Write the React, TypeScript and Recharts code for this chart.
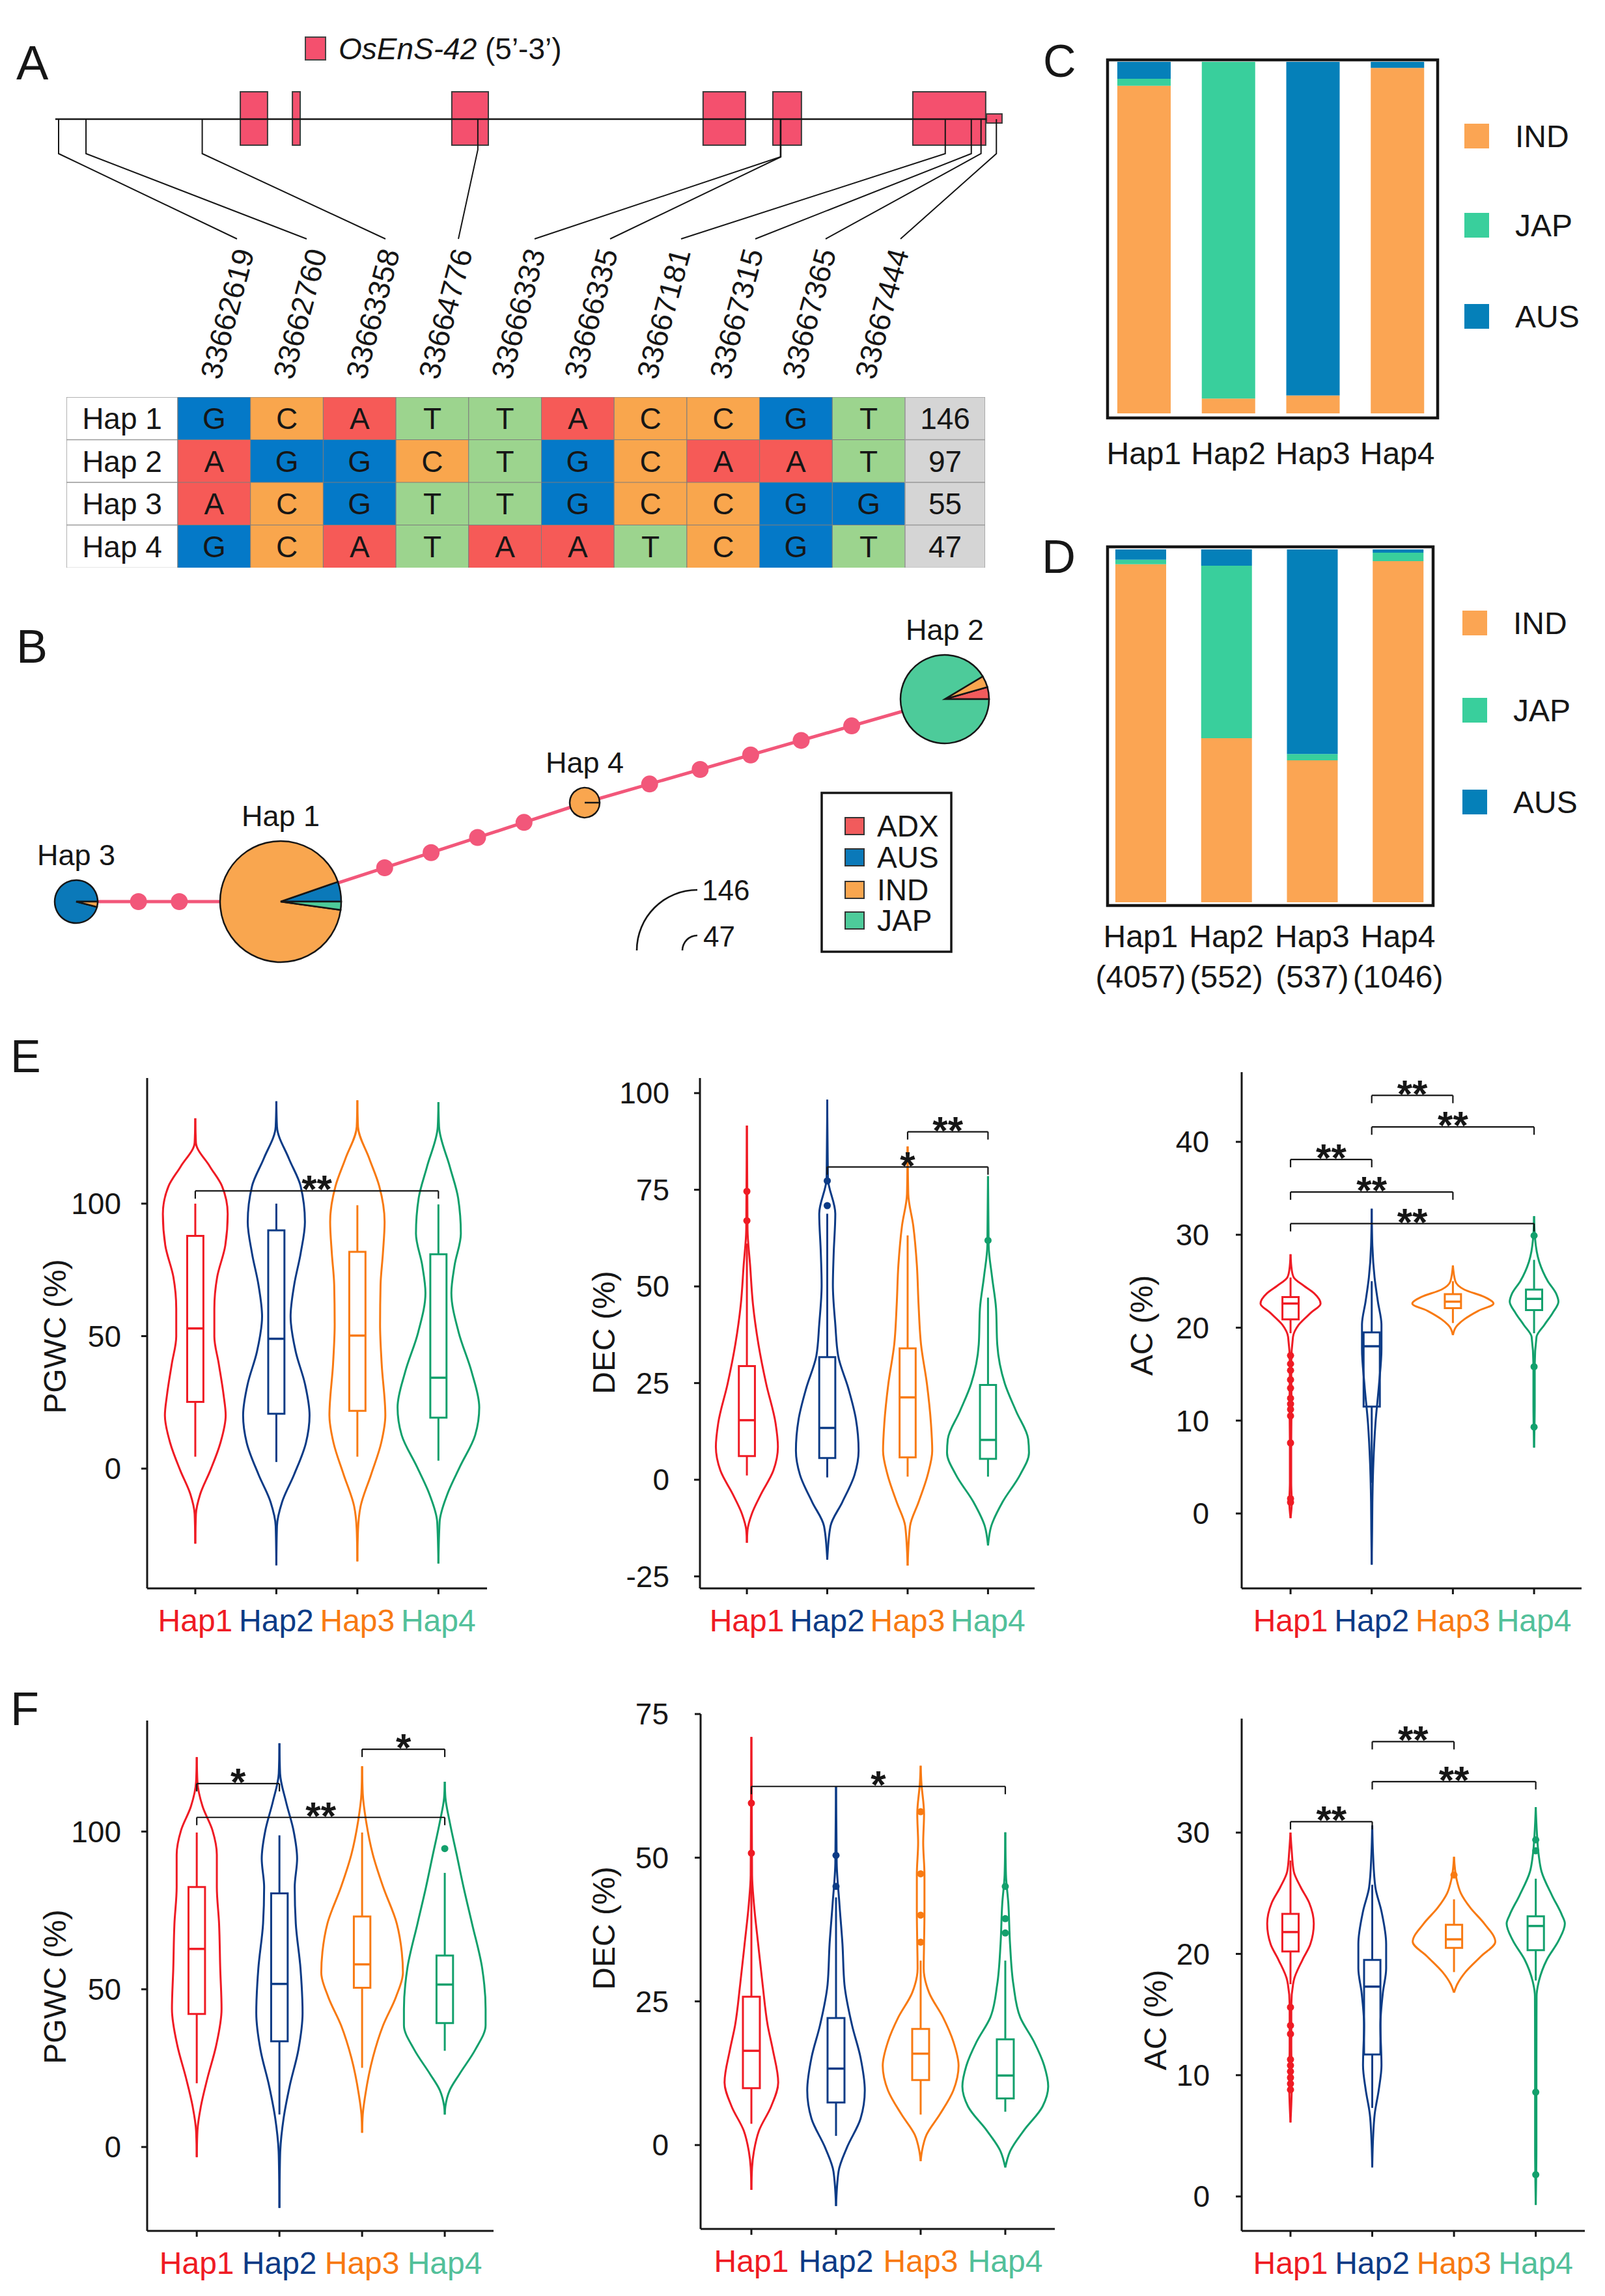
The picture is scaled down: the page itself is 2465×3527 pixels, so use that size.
import React from 'react';
import {
  ComposedChart, BarChart, PieChart, Bar, Cell, LabelList, Line, Scatter, Pie,
  XAxis, YAxis, ReferenceArea, ReferenceLine,
} from 'recharts';

const FONT = '"Liberation Sans", Arial, Helvetica, sans-serif';
const INK = '#161616';
const PINK = '#f4506e';

// ---------- A: gene model (bp) and haplotype table ----------
const snpPos = [33662619, 33662760, 33663358, 33664776, 33666333, 33666335, 33667181, 33667315, 33667365, 33667444];
const exonSpans = [
  [33663554, 33663694], [33663822, 33663862], [33664642, 33664830],
  [33665935, 33666153], [33666294, 33666441], [33667014, 33667389],
];
const utrSpan = [33667393, 33667473];
const geneStart = 33662602;

const hapNames = ['Hap 1', 'Hap 2', 'Hap 3', 'Hap 4'];
const hapAlleles = ['GCATTACCGT', 'AGGCTGCAAT', 'ACGTTGCCGG', 'GCATAATCGT'];
const hapCounts = [146, 97, 55, 47];
const baseColors = { A: '#f65a57', C: '#f9a64d', G: '#0479c8', T: '#9cd48e' };

// ---------- B: haplotype network ----------
const popNames = ['ADX', 'AUS', 'IND', 'JAP'];
const popColors = ['#f15b5c', '#0b79b9', '#f9a64f', '#4dcb9a'];
const netShares = [
  [0, 5.3, 92.5, 2.2],
  [4.4, 0, 4.2, 91.4],
  [0, 96, 4, 0],
  [0, 0, 100, 0],
];
// [from hap, to hap, mutation steps]
const netLinks = [[2, 0, 2], [0, 3, 4], [3, 1, 5]];
const sizeKey = [146, 47];

// ---------- C / D: subpopulation make-up ----------
const groupNames = ['IND', 'JAP', 'AUS'];
const groupColors = ['#fba553', '#39cf9c', '#0580b9'];
const hapTicks = ['Hap1', 'Hap2', 'Hap3', 'Hap4'];
const cInd = [93.2, 4.2, 5.1, 98.3];
const cJap = [2.0, 95.8, 0, 0];
const cAus = [4.8, 0, 94.9, 1.7];
const dInd = [95.8, 46.5, 40.2, 96.7];
const dJap = [1.3, 48.9, 1.8, 2.4];
const dAus = [2.9, 4.6, 58.0, 0.9];
const dTotals = [4057, 552, 537, 1046];

// ---------- E / F: violins ----------
const violinColors = ['#ef1b24', '#0c3b86', '#f87a12', '#12a06c'];
const tickColors = ['#ef1b24', '#0c3b86', '#f87a12', '#52c09a'];

// outlines: [value, half width in category units], top tip to bottom tip
const ePgwcShapes = [
  [[132.2, 0], [123, 0.008], [114, 0.18], [106.6, 0.33], [96.1, 0.40], [84.2, 0.37], [72.3, 0.27], [60.4, 0.235], [49.9, 0.235], [39.5, 0.29], [27.6, 0.35], [20.1, 0.375], [9.7, 0.31], [-0.7, 0.185], [-9.7, 0.06], [-17.1, 0.008], [-28.3, 0]],
  [[138.6, 0], [129, 0.008], [117, 0.155], [106.6, 0.30], [93.1, 0.353], [81.2, 0.30], [69.3, 0.22], [57.4, 0.176], [44, 0.24], [32, 0.353], [20.1, 0.41], [9.7, 0.365], [-2.2, 0.22], [-12.7, 0.07], [-21.6, 0.008], [-36.5, 0]],
  [[139, 0], [129, 0.008], [117, 0.147], [106.6, 0.27], [93.1, 0.336], [81.2, 0.315], [69.3, 0.286], [54.4, 0.28], [39.5, 0.3], [20.1, 0.345], [9.7, 0.294], [-2.2, 0.17], [-14.2, 0.04], [-23.1, 0.008], [-35, 0]],
  [[138.3, 0], [129, 0.008], [114, 0.14], [102, 0.244], [88.7, 0.277], [76.8, 0.2], [66.3, 0.16], [51.4, 0.25], [36.5, 0.41], [23.1, 0.504], [12.7, 0.454], [0.7, 0.265], [-9.7, 0.11], [-20.1, 0.015], [-35.8, 0]],
];
// [low whisker, q1, median, q3, high whisker]
const ePgwcBoxes = [[4.5, 25.2, 52.9, 87.8, 100], [2.5, 20.7, 49.0, 89.9, 100], [4.5, 21.8, 50.2, 81.8, 99.4], [3, 19.2, 34.3, 80.9, 99.7]];
const ePgwcOutliers = [[], [], [], []];
const ePgwcBrackets = [['**', 1, 4, 104.8]];

const eDecShapes = [
  [[91.6, 0], [64.7, 0.008], [55.5, 0.04], [45.3, 0.076], [35, 0.144], [24.8, 0.24], [14.6, 0.357], [8.5, 0.386], [2.4, 0.33], [-3.8, 0.174], [-8.9, 0.06], [-13, 0.008], [-16.3, 0]],
  [[98.3, 0], [78, 0.008], [68.8, 0.1], [58.6, 0.08], [50.4, 0.07], [40.2, 0.10], [32, 0.136], [23.8, 0.26], [15.6, 0.357], [7.5, 0.39], [1.3, 0.34], [-5.8, 0.187], [-12, 0.04], [-20.7, 0]],
  [[86.2, 0], [73.9, 0.008], [65.7, 0.07], [55.5, 0.115], [45.3, 0.136], [35.1, 0.166], [24.8, 0.24], [14.6, 0.29], [7.5, 0.306], [1.3, 0.25], [-5.8, 0.136], [-12, 0.03], [-22.2, 0]],
  [[78.5, 0], [60.6, 0.008], [52.5, 0.05], [44.3, 0.10], [35, 0.115], [24.8, 0.21], [17.7, 0.35], [10.5, 0.5], [7, 0.51], [1.3, 0.4], [-5.8, 0.18], [-12, 0.04], [-17, 0]],
];
const eDecBoxes = [[1.1, 6.1, 15.4, 29.4, 61.1], [0.6, 5.6, 13.4, 31.7, 68.8], [0.8, 5.8, 21.3, 34, 63.2], [0.8, 5.4, 10.3, 24.5, 47.1]];
const eDecOutliers = [[74.6, 67], [77.3, 70.9], [], [61.9]];
const eDecBrackets = [['**', 3, 4, 90], ['*', 2, 4, 80.9]];

const eAcShapes = [
  [[27.9, 0], [26.2, 0.015], [25.4, 0.04], [24.5, 0.165], [23.7, 0.29], [22.6, 0.37], [21.6, 0.25], [20.3, 0.1], [19, 0.03], [16, 0.008], [11.8, 0.012], [7.6, 0.008], [3.3, 0.008], [1.2, 0.015], [-0.5, 0]],
  [[32.8, 0], [28.8, 0.008], [25.4, 0.035], [22.8, 0.076], [20.3, 0.12], [17.7, 0.12], [13.9, 0.09], [9.7, 0.046], [5.4, 0.02], [1.2, 0.008], [-1.8, 0.005], [-5.5, 0]],
  [[26.7, 0], [25, 0.03], [24.1, 0.14], [23.3, 0.39], [22.6, 0.5], [21.8, 0.31], [20.9, 0.14], [20.1, 0.04], [19.2, 0]],
  [[32, 0], [29.6, 0.012], [27.1, 0.063], [25, 0.17], [23.7, 0.27], [22.8, 0.3], [21.6, 0.23], [20.3, 0.127], [19, 0.03], [16, 0.008], [11.8, 0.008], [7.1, 0]],
];
const eAcBoxes = [[19.4, 20.9, 22.6, 23.3, 25.4], [3.3, 11.5, 18, 19.5, 25], [20.5, 22.1, 22.8, 23.6, 25], [19.4, 21.9, 23.1, 24.1, 27.3]];
const eAcOutliers = [[17, 16.1, 15.4, 14.4, 13.5, 12.4, 11.8, 11.2, 10.5, 7.6, 1.6, 1.2], [], [], [29.9, 15.8, 9.3]];
const eAcBrackets = [['**', 2, 3, 45], ['**', 2, 4, 41.6], ['**', 1, 2, 38.1], ['**', 1, 3, 34.6], ['**', 1, 4, 31.2]];

const fPgwcShapes = [
  [[123.6, 0], [115.8, 0.008], [108, 0.07], [100.4, 0.19], [92.7, 0.243], [82.4, 0.243], [70.8, 0.27], [56.6, 0.284], [43.8, 0.3], [32.2, 0.235], [21.9, 0.13], [12.9, 0.05], [5.1, 0.008], [-3.2, 0]],
  [[128, 0], [118.4, 0.008], [109.4, 0.08], [100.4, 0.17], [91.4, 0.214], [82.4, 0.185], [70.8, 0.198], [56.6, 0.255], [42.5, 0.28], [30.9, 0.23], [19.3, 0.124], [9, 0.05], [-2.6, 0.008], [-19.3, 0]],
  [[120.7, 0], [112, 0.008], [103, 0.05], [92.7, 0.13], [82.4, 0.255], [70.8, 0.42], [61.8, 0.48], [55.3, 0.494], [47.6, 0.41], [38.6, 0.255], [28.3, 0.13], [16.7, 0.04], [10.3, 0.008], [4.5, 0]],
  [[115.8, 0], [110.7, 0.008], [103, 0.06], [92.7, 0.144], [82.4, 0.227], [70.8, 0.33], [56.6, 0.453], [43.8, 0.494], [38.6, 0.494], [30.9, 0.37], [23.2, 0.18], [18, 0.06], [13, 0.008], [10.3, 0]],
];
const fPgwcBoxes = [[20.2, 42.2, 62.8, 82.4, 99.7], [10.3, 33.5, 51.7, 80.4, 98.8], [25.1, 50.5, 57.9, 73.1, 99.7], [30.5, 39.3, 51.5, 60.7, 86.9]];
const fPgwcOutliers = [[], [], [], [94.6]];
const fPgwcBrackets = [['*', 3, 4, 126.1], ['*', 1, 2, 115.2], ['**', 1, 4, 104.5]];

const fDecShapes = [
  [[71, 0], [47, 0.008], [42, 0.03], [35, 0.08], [27.9, 0.133], [20.8, 0.193], [16.6, 0.253], [10.9, 0.317], [6.7, 0.233], [2.5, 0.09], [-1.1, 0.03], [-3.9, 0.008], [-7.8, 0]],
  [[62.4, 0], [49.1, 0.008], [42, 0.04], [35, 0.076], [27.9, 0.1], [20.8, 0.19], [15.2, 0.29], [9.5, 0.34], [4.6, 0.29], [-0.4, 0.13], [-4.6, 0.03], [-10.6, 0]],
  [[66, 0], [63.2, 0.008], [57.6, 0.04], [52.6, 0.03], [47, 0.045], [40.6, 0.045], [35, 0.04], [30.7, 0.036], [26.5, 0.1], [22.2, 0.265], [18, 0.386], [13.8, 0.448], [9.5, 0.386], [5.3, 0.225], [1.8, 0.07], [-1.1, 0.015], [-2.8, 0]],
  [[54.4, 0], [47, 0.008], [42, 0.036], [35, 0.056], [27.9, 0.096], [22.2, 0.177], [18, 0.338], [13.8, 0.46], [10.2, 0.507], [6.7, 0.44], [2.5, 0.217], [-1.1, 0.056], [-3.9, 0]],
];
const fDecBoxes = [[3.7, 9.9, 16.4, 25.8, 46.6], [1.6, 7.4, 13.3, 22.1, 43.1], [5.3, 11.3, 15.9, 20.2, 32.1], [5.8, 8.1, 12.1, 18.4, 32.1]];
const fDecOutliers = [[59.5, 50.8], [50.4, 45], [58, 47.2, 40, 35.3], [45, 39.4, 36.9]];
const fDecBrackets = [['*', 1, 4, 62.4]];

const fAcShapes = [
  [[30, 0], [28.5, 0.015], [26.8, 0.04], [25.5, 0.125], [24.2, 0.23], [22.5, 0.285], [20.8, 0.243], [19.5, 0.146], [17.8, 0.04], [15.8, 0.01], [12.5, 0.01], [9.1, 0.015], [6.1, 0]],
  [[30.6, 0], [28.2, 0.01], [25.5, 0.038], [23.5, 0.113], [20.8, 0.17], [18.8, 0.17], [16.8, 0.13], [14.1, 0.1], [10.8, 0.113], [8.8, 0.08], [6.8, 0.03], [4.8, 0.01], [2.4, 0]],
  [[28, 0], [26.2, 0.03], [25, 0.084], [23.8, 0.2], [22.5, 0.37], [21, 0.505], [19.8, 0.33], [18.5, 0.14], [17.5, 0.04], [16.8, 0]],
  [[32.1, 0], [30.2, 0.012], [28.2, 0.035], [26.8, 0.07], [24.8, 0.2], [23.2, 0.32], [22.5, 0.356], [21.1, 0.28], [19.5, 0.134], [17.8, 0.04], [16.5, 0.01], [10.8, 0.008], [4.1, 0.008], [-0.7, 0]],
];
const fAcBoxes = [[17.5, 20.2, 21.8, 23.3, 27.7], [7.3, 11.7, 17.3, 19.5, 25.7], [18.5, 20.5, 21.2, 22.4, 24.5], [17.8, 20.3, 22.3, 23.1, 26.2]];
const fAcOutliers = [[15.6, 14.1, 13.4, 11.3, 10.8, 10.3, 9.8, 9.3, 8.8], [], [26.5], [29.4, 28.5, 8.6, 1.8]];
const fAcBrackets = [['**', 2, 3, 37.5], ['**', 2, 4, 34.2], ['**', 1, 2, 30.9]];

// ---------- layout (page pixels) ----------
const BP_PX = 0.2985;
const G0 = 33662619 - 90 / BP_PX;
const gx = (px) => G0 + px / BP_PX;
const elbowY = [236, 236, 236, 230, 241, 241, 236, 236, 236, 236];
const labelEndPx = [364, 471, 592, 704, 821, 937, 1046, 1160, 1268, 1383];
const LABEL_W = 1.531;
const COUNT_W = 1.101;

const netLayout = [
  { cx: 431, cy: 485, r: 93 },
  { cx: 1451, cy: 174, r: 68 },
  { cx: 117, cy: 485, r: 33 },
  { cx: 898, cy: 333, r: 23 },
];

const violinLayouts = [
  { plot: [226, 1656, 748, 2440], yDomain: [-45.2, 147.4], yTicks: [0, 50, 100], xDomain: [0.406, 4.6], yLabel: 'PGWC (%)', yLabelAt: [84, 2053], tickGap: 40 },
  { plot: [1075, 1656, 1589, 2440], yDomain: [-28.1, 103.9], yTicks: [-25, 0, 25, 50, 75, 100], xDomain: [0.416, 4.58], yLabel: 'DEC (%)', yLabelAt: [927, 2047], tickGap: 47 },
  { plot: [1907, 1647, 2429, 2440], yDomain: [-8.06, 47.5], yTicks: [0, 10, 20, 30, 40], xDomain: [0.398, 4.585], yLabel: 'AC (%)', yLabelAt: [1753, 2036], tickGap: 50 },
  { plot: [226, 2643, 758, 3427], yDomain: [-26.6, 135.2], yTicks: [0, 50, 100], xDomain: [0.4, 4.59], yLabel: 'PGWC (%)', yLabelAt: [84, 3052], tickGap: 40 },
  { plot: [1076, 2633, 1620, 3424], yDomain: [-14.6, 75], yTicks: [0, 25, 50, 75], xDomain: [0.4, 4.585], yLabel: 'DEC (%)', yLabelAt: [927, 2962], tickGap: 49 },
  { plot: [1907, 2640, 2434, 3427], yDomain: [-2.84, 39.4], yTicks: [0, 10, 20, 30], xDomain: [0.403, 4.6], yLabel: 'AC (%)', yLabelAt: [1774, 3103], tickGap: 49 },
];

const noMargin = { top: 0, right: 0, bottom: 0, left: 0 };

function GeneModel() {
  const connectors = snpPos.map((p, i) => [
    { x: p, y: 183 }, { x: p, y: elbowY[i] }, { x: gx(labelEndPx[i]), y: 367 },
  ]);
  const labels = snpPos.map((p, i) => ({ x: gx(338 + 111.7 * i), y: 585, t: String(p) }));
  return (
    <div style={{ position: 'absolute', left: 0, top: 0 }}>
      <ComposedChart width={1600} height={600} margin={noMargin}>
        <XAxis hide type="number" dataKey="x" domain={[G0, gx(1600)]} allowDataOverflow />
        <YAxis hide type="number" dataKey="y" domain={[0, 600]} reversed allowDataOverflow />
        <ReferenceLine segment={[{ x: geneStart, y: 183 }, { x: utrSpan[0], y: 183 }]} stroke={INK} strokeWidth={2.5} />
        {exonSpans.map(([a, b], i) => (
          <ReferenceArea key={i} x1={a} x2={b} y1={141} y2={223} fill={PINK} fillOpacity={1} stroke="#3a3a3a" strokeWidth={2} />
        ))}
        <ReferenceArea x1={utrSpan[0]} x2={utrSpan[1]} y1={175} y2={189} fill={PINK} fillOpacity={1} stroke="#3a3a3a" strokeWidth={2} />
        {connectors.map((d, i) => (
          <Line key={i} data={d} dataKey="y" type="linear" stroke={INK} strokeWidth={2} dot={false} activeDot={false} isAnimationActive={false} />
        ))}
        <Scatter data={labels} isAnimationActive={false} shape={(p) => (
          <text x={p.cx} y={p.cy} transform={`rotate(-75 ${p.cx} ${p.cy})`} fontSize={46} fontFamily={FONT} fill={INK}>{p.payload.t}</text>
        )} />
      </ComposedChart>
    </div>
  );
}

function HapTable() {
  const rows = hapNames.map((n, r) => {
    const row = { name: n, lab: LABEL_W, cnt: COUNT_W, count: hapCounts[r] };
    hapAlleles[r].split('').forEach((b, i) => { row['s' + i] = 1; row['a' + i] = b; });
    return row;
  });
  const lbl = { fill: INK, fontSize: 46, fontFamily: FONT };
  return (
    <div style={{ position: 'absolute', left: 102, top: 610 }}>
      <BarChart layout="vertical" width={1411} height={262} data={rows} margin={noMargin} barCategoryGap={0} barGap={0}>
        <XAxis type="number" hide domain={[0, LABEL_W + 10 + COUNT_W]} allowDataOverflow />
        <YAxis type="category" dataKey="name" hide />
        <Bar dataKey="lab" stackId="t" fill="#fff" stroke="#9a9a9a" strokeWidth={1.5} isAnimationActive={false}>
          <LabelList dataKey="name" position="center" {...lbl} />
        </Bar>
        {Array.from({ length: 10 }, (_, i) => (
          <Bar key={i} dataKey={'s' + i} stackId="t" stroke="#7d7d7d" strokeWidth={1} isAnimationActive={false}>
            {rows.map((r, k) => <Cell key={k} fill={baseColors[r['a' + i]]} />)}
            <LabelList dataKey={'a' + i} position="center" {...lbl} />
          </Bar>
        ))}
        <Bar dataKey="cnt" stackId="t" fill="#d5d5d5" stroke="#9a9a9a" strokeWidth={1.5} isAnimationActive={false}>
          <LabelList dataKey="count" position="center" {...lbl} />
        </Bar>
      </BarChart>
    </div>
  );
}

function Network() {
  const nodes = netLayout;
  const dots = netLinks.flatMap(([a, b, n]) => {
    const A = nodes[a], Bn = nodes[b];
    const dx = Bn.cx - A.cx, dy = Bn.cy - A.cy, len = Math.hypot(dx, dy);
    const s = A.r, e = len - Bn.r;
    return Array.from({ length: n }, (_, k) => {
      const t = s + ((e - s) * (k + 1)) / (n + 1);
      return { x: A.cx + (dx / len) * t, y: A.cy + (dy / len) * t };
    });
  });
  const labels = nodes.map((nd, i) => ({ x: nd.cx, y: nd.cy - nd.r - 23, t: hapNames[i] }));
  const keyNode = sizeKey.map((c) => nodes[hapCounts.indexOf(c)]);
  const keyLabels = [
    { x: 1078, y: 483, t: String(sizeKey[0]) },
    { x: 1080, y: 554, t: String(sizeKey[1]) },
  ];
  const pies = netShares.map((row) => row.map((v, k) => ({ k, v })).filter((d) => d.v > 0));
  return (
    <>
      <div style={{ position: 'absolute', left: 0, top: 900 }}>
        <ComposedChart width={1600} height={600} margin={noMargin}>
          <XAxis hide type="number" dataKey="x" domain={[0, 1600]} allowDataOverflow />
          <YAxis hide type="number" dataKey="y" domain={[0, 600]} reversed allowDataOverflow />
          {netLinks.map(([a, b], i) => (
            <ReferenceLine key={i} segment={[{ x: nodes[a].cx, y: nodes[a].cy }, { x: nodes[b].cx, y: nodes[b].cy }]} stroke="#f2577a" strokeWidth={5} />
          ))}
          <Scatter data={dots} isAnimationActive={false} shape={(p) => <circle cx={p.cx} cy={p.cy} r={13} fill="#f2577a" />} />
          <Scatter data={labels} isAnimationActive={false} shape={(p) => (
            <text x={p.cx} y={p.cy} textAnchor="middle" fontSize={45} fontFamily={FONT} fill={INK}>{p.payload.t}</text>
          )} />
          <Scatter data={keyLabels} isAnimationActive={false} shape={(p) => (
            <text x={p.cx} y={p.cy} fontSize={44} fontFamily={FONT} fill={INK}>{p.payload.t}</text>
          )} />
        </ComposedChart>
      </div>
      <div style={{ position: 'absolute', left: 0, top: 900 }}>
        <PieChart width={1600} height={600} margin={noMargin}>
          {pies.map((d, i) => (
            <Pie key={i} data={d} dataKey="v" nameKey="k" cx={nodes[i].cx} cy={nodes[i].cy} innerRadius={0} outerRadius={nodes[i].r}
              startAngle={0} endAngle={360} stroke={INK} strokeWidth={2.5} isAnimationActive={false} label={false} labelLine={false}>
              {d.map((s, j) => <Cell key={j} fill={popColors[s.k]} />)}
            </Pie>
          ))}
          {keyNode.map((nd, i) => (
            <Pie key={'k' + i} data={[{ v: sizeKey[i] }]} dataKey="v" cx={1071} cy={560} innerRadius={nd.r - 1.3} outerRadius={nd.r + 1.3}
              startAngle={90} endAngle={180} fill={INK} stroke="none" isAnimationActive={false} label={false} labelLine={false} />
          ))}
        </PieChart>
      </div>
    </>
  );
}

function StackPanel({ plot, barSize, labelDy, ind, jap, aus, totals }) {
  const [L, T, R, B] = plot;
  const PAD = 60;
  const rows = hapTicks.map((h, i) => ({ name: h, IND: ind[i], JAP: jap[i], AUS: aus[i], n: totals ? totals[i] : null }));
  const HX = 170;
  const tick = (p) => {
    const row = rows.find((r) => r.name === p.payload.value);
    return (
      <g>
        <text x={p.x} y={p.y + labelDy} textAnchor="middle" fontSize={48} fontFamily={FONT} fill={INK}>{row.name}</text>
        {row.n != null && (
          <text x={p.x} y={p.y + labelDy + 62} textAnchor="middle" fontSize={48} fontFamily={FONT} fill={INK}>({row.n})</text>
        )}
      </g>
    );
  };
  return (
    <div style={{ position: 'absolute', left: L - PAD, top: T }}>
      <BarChart width={R - L + 2 * PAD} height={B - T + HX} data={rows} margin={{ top: 0, right: PAD, bottom: 0, left: PAD }} barSize={barSize}>
        <XAxis dataKey="name" type="category" height={HX} axisLine={false} tickLine={false} tickSize={0} tickMargin={0} tick={tick} interval={0} />
        <YAxis hide type="number" domain={[0, 100]} allowDataOverflow />
        {groupNames.map((g, k) => (
          <Bar key={g} dataKey={g} stackId="s" fill={groupColors[k]} isAnimationActive={false} />
        ))}
      </BarChart>
    </div>
  );
}

const HapTick = (props) => {
  const { x, y, payload } = props;
  const i = Math.round(payload.value) - 1;
  return (
    <text x={x} y={y} dy={57} textAnchor="middle" fontSize={48} fontFamily={FONT} fill={tickColors[i]}>{hapTicks[i]}</text>
  );
};

function ViolinPanel({ lay, shapes, boxes, outliers, brackets }) {
  const [L, T, R, B] = lay.plot;
  const LY = 200, MT = 44, MR = 40, HX = 110;
  const left = L - LY, top = T - MT;
  const width = LY + (R - L) + MR;
  const height = MT + (B - T) + HX;
  const perPx = (lay.yDomain[1] - lay.yDomain[0]) / (B - T);
  const drop = 12 * perPx;
  const lx = lay.yLabelAt[0] - left, ly = lay.yLabelAt[1] - top;
  const bw = 0.1;
  const outPts = outliers.flatMap((vals, i) => vals.map((v) => ({ x: i + 1, y: v, c: violinColors[i] })));
  const starPts = brackets.map(([s, a, b, y]) => ({ x: (a + b) / 2, y, t: s }));
  const ax = { stroke: INK, strokeWidth: 3 };
  return (
    <div style={{ position: 'absolute', left, top }}>
      <ComposedChart width={width} height={height} margin={{ top: MT, right: MR, bottom: 0, left: 0 }}>
        <XAxis type="number" dataKey="x" domain={lay.xDomain} allowDataOverflow ticks={[1, 2, 3, 4]} interval={0} height={HX}
          axisLine={ax} tickLine={ax} tickSize={9} tickMargin={0} tick={HapTick} />
        <YAxis type="number" dataKey="y" domain={lay.yDomain} allowDataOverflow ticks={lay.yTicks} interval={0} width={LY}
          axisLine={ax} tickLine={ax} tickSize={9} tickMargin={lay.tickGap - 9}
          tick={{ fill: INK, fontSize: 46, fontFamily: FONT }}
          label={{
            content: () => (
              <text x={lx} y={ly} transform={`rotate(-90 ${lx} ${ly})`} textAnchor="middle" dominantBaseline="central"
                fontSize={48} fontFamily={FONT} fill={INK}>{lay.yLabel}</text>
            ),
          }} />
        {shapes.map((sh, i) => [-1, 1].map((side) => (
          <Line key={`v${i}${side}`} data={sh.map(([v, w]) => ({ x: i + 1 + side * w, y: v }))} dataKey="y" type="monotoneY"
            stroke={violinColors[i]} strokeWidth={3} dot={false} activeDot={false} isAnimationActive={false} />
        )))}
        {boxes.map(([lo, q1, md, q3, hi], i) => {
          const c = i + 1, col = violinColors[i];
          return [
            <ReferenceLine key={`wh${i}`} segment={[{ x: c, y: q3 }, { x: c, y: hi }]} stroke={col} strokeWidth={3} />,
            <ReferenceLine key={`wl${i}`} segment={[{ x: c, y: lo }, { x: c, y: q1 }]} stroke={col} strokeWidth={3} />,
            <ReferenceArea key={`b${i}`} x1={c - bw} x2={c + bw} y1={q1} y2={q3} fill="none" stroke={col} strokeWidth={3} />,
            <ReferenceLine key={`m${i}`} segment={[{ x: c - bw, y: md }, { x: c + bw, y: md }]} stroke={col} strokeWidth={3.5} />,
          ];
        })}
        {brackets.map(([, a, b, y], i) => [
          <ReferenceLine key={`h${i}`} segment={[{ x: a, y }, { x: b, y }]} stroke={INK} strokeWidth={2.2} />,
          <ReferenceLine key={`l${i}`} segment={[{ x: a, y }, { x: a, y: y - drop }]} stroke={INK} strokeWidth={2.2} />,
          <ReferenceLine key={`r${i}`} segment={[{ x: b, y }, { x: b, y: y - drop }]} stroke={INK} strokeWidth={2.2} />,
        ])}
        <Scatter data={outPts} isAnimationActive={false} shape={(p) => <circle cx={p.cx} cy={p.cy} r={5.5} fill={p.payload.c} />} />
        <Scatter data={starPts} isAnimationActive={false} shape={(p) => (
          <text x={p.cx} y={p.cy + 18} textAnchor="middle" fontSize={60} fontWeight="bold" fontFamily={FONT} fill={INK}>{p.payload.t}</text>
        )} />
      </ComposedChart>
    </div>
  );
}

function Overlay() {
  const letter = (t, x, y, s) => (
    <text key={t} x={x} y={y} fontSize={s} fontFamily={FONT} fill={INK}>{t}</text>
  );
  const bRows = [1269, 1317, 1367, 1414];
  const cRows = [209, 346, 486];
  const dRows = [957, 1091, 1232];
  return (
    <svg width={2465} height={3527} style={{ position: 'absolute', left: 0, top: 0, pointerEvents: 'none' }}>
      {letter('A', 25, 122, 74)}
      {letter('B', 25, 1018, 72)}
      {letter('C', 1602, 118, 70)}
      {letter('D', 1600, 880, 72)}
      {letter('E', 16, 1647, 70)}
      {letter('F', 16, 2650, 72)}
      <rect x={469} y={57} width={31} height={35} fill={PINK} stroke="#444" strokeWidth={2} />
      <text x={520} y={91} fontSize={46} fontFamily={FONT} fill={INK}>
        <tspan fontStyle="italic">OsEnS-42</tspan>
        <tspan> (5’-3’)</tspan>
      </text>
      <rect x={1262} y={1218} width={199} height={244} fill="none" stroke={INK} strokeWidth={3.5} />
      {popNames.map((n, i) => (
        <g key={n}>
          <rect x={1298} y={bRows[i] - 13} width={29} height={26} fill={popColors[i]} stroke="#333" strokeWidth={2} />
          <text x={1347} y={bRows[i] + 16} fontSize={46} fontFamily={FONT} fill={INK}>{n}</text>
        </g>
      ))}
      <rect x={1701} y={92} width={507} height={550} fill="none" stroke={INK} strokeWidth={4.5} />
      <rect x={1701} y={840} width={500} height={551} fill="none" stroke={INK} strokeWidth={4.5} />
      {groupNames.map((n, i) => (
        <g key={n}>
          <rect x={2249} y={cRows[i] - 19} width={38} height={38} fill={groupColors[i]} />
          <text x={2327} y={cRows[i] + 17} fontSize={48} fontFamily={FONT} fill={INK}>{n}</text>
          <rect x={2246} y={dRows[i] - 19} width={38} height={38} fill={groupColors[i]} />
          <text x={2324} y={dRows[i] + 17} fontSize={48} fontFamily={FONT} fill={INK}>{n}</text>
        </g>
      ))}
    </svg>
  );
}

export default function App() {
  return (
    <div style={{ position: 'relative', width: 2465, height: 3527, background: '#fff', fontFamily: FONT, overflow: 'hidden' }}>
      <style>{'body{margin:0}'}</style>
      <GeneModel />
      <HapTable />
      <Network />
      <StackPanel plot={[1692, 95, 2211, 635]} barSize={82} labelDy={78} ind={cInd} jap={cJap} aus={cAus} />
      <StackPanel plot={[1686, 844, 2213, 1386]} barSize={78} labelDy={69} ind={dInd} jap={dJap} aus={dAus} totals={dTotals} />
      <ViolinPanel lay={violinLayouts[0]} shapes={ePgwcShapes} boxes={ePgwcBoxes} outliers={ePgwcOutliers} brackets={ePgwcBrackets} />
      <ViolinPanel lay={violinLayouts[1]} shapes={eDecShapes} boxes={eDecBoxes} outliers={eDecOutliers} brackets={eDecBrackets} />
      <ViolinPanel lay={violinLayouts[2]} shapes={eAcShapes} boxes={eAcBoxes} outliers={eAcOutliers} brackets={eAcBrackets} />
      <ViolinPanel lay={violinLayouts[3]} shapes={fPgwcShapes} boxes={fPgwcBoxes} outliers={fPgwcOutliers} brackets={fPgwcBrackets} />
      <ViolinPanel lay={violinLayouts[4]} shapes={fDecShapes} boxes={fDecBoxes} outliers={fDecOutliers} brackets={fDecBrackets} />
      <ViolinPanel lay={violinLayouts[5]} shapes={fAcShapes} boxes={fAcBoxes} outliers={fAcOutliers} brackets={fAcBrackets} />
      <Overlay />
    </div>
  );
}
